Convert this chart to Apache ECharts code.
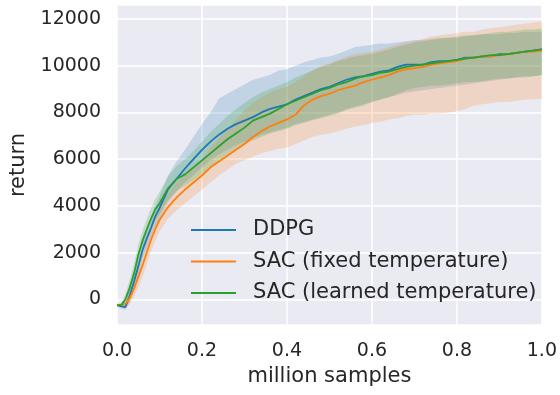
<!DOCTYPE html>
<html>
<head>
<meta charset="utf-8">
<script src="https://cdn.jsdelivr.net/npm/echarts@6/dist/echarts.min.js"></script>
<style>
  html, body { margin: 0; padding: 0; background: #ffffff; }
  #chart { width: 560px; height: 395px; }
</style>
</head>
<body>
<div id="chart"></div>
<script>
// x positions (million samples)
var samples = [0, 0.01, 0.02, 0.03, 0.04, 0.05, 0.06, 0.07, 0.08, 0.09, 0.10,
  0.12, 0.14, 0.16, 0.18, 0.20, 0.22, 0.24, 0.26, 0.28, 0.30,
  0.32, 0.34, 0.36, 0.38, 0.40, 0.42, 0.44, 0.46, 0.48, 0.50,
  0.52, 0.54, 0.56, 0.58, 0.60, 0.62, 0.64, 0.66, 0.68, 0.70,
  0.72, 0.74, 0.76, 0.78, 0.80, 0.82, 0.84, 0.86, 0.88, 0.90,
  0.92, 0.94, 0.96, 0.98, 1.00]

var ddpgMean = [-250, -300, -330, 150, 750, 1400, 2100, 2600, 3050, 3550, 3900,
  4700, 5150, 5600, 6000, 6400, 6750, 7050, 7300, 7500, 7650,
  7800, 8000, 8150, 8250, 8350, 8550, 8700, 8850, 9000, 9100,
  9250, 9400, 9500, 9550, 9650, 9750, 9800, 9950, 10050, 10050,
  10050, 10150, 10200, 10200, 10250, 10350, 10350, 10400, 10400, 10500,
  10500, 10550, 10600, 10650, 10700]
var ddpgLow = [-300, -400, -450, -150, 400, 1000, 1700, 2200, 2650, 3100, 3450,
  4150, 4600, 5000, 5300, 5650, 5950, 6200, 6400, 6600, 6750,
  6900, 7050, 7150, 7250, 7350, 7500, 7600, 7700, 7800, 7900,
  8000, 8150, 8250, 8350, 8450, 8550, 8650, 8750, 8850, 8900,
  8950, 9000, 9050, 9100, 9150, 9200, 9250, 9300, 9350, 9400,
  9450, 9500, 9500, 9550, 9600]
var ddpgHigh = [-200, -200, -150, 500, 1150, 1850, 2500, 3050, 3500, 4000, 4400,
  5300, 5900, 6400, 6950, 7500, 8000, 8600, 8800, 9000, 9200,
  9400, 9500, 9600, 9800, 9850, 10000, 10150, 10250, 10350, 10400,
  10500, 10650, 10800, 10850, 10900, 10950, 10950, 11000, 11050, 11100,
  11100, 11150, 11200, 11200, 11250, 11300, 11300, 11350, 11350, 11350,
  11400, 11400, 11450, 11450, 11450]

var sacFixedMean = [-250, -250, -200, 50, 450, 950, 1450, 2000, 2550, 3000, 3400,
  3950, 4350, 4700, 5000, 5300, 5650, 5900, 6150, 6400, 6650,
  6950, 7200, 7400, 7550, 7700, 7900, 8300, 8550, 8700, 8800,
  8950, 9050, 9150, 9300, 9400, 9500, 9600, 9750, 9850, 9900,
  9950, 10050, 10100, 10150, 10200, 10300, 10350, 10400, 10400, 10450,
  10500, 10550, 10600, 10600, 10650]
var sacFixedLow = [-300, -300, -300, -200, 100, 500, 950, 1500, 2050, 2500, 2900,
  3450, 3800, 4100, 4400, 4700, 5000, 5300, 5550, 5800, 5950,
  6100, 6250, 6350, 6450, 6500, 6650, 6800, 6950, 7050, 7100,
  7200, 7300, 7400, 7450, 7550, 7600, 7700, 7750, 7850, 7900,
  7900, 7950, 7950, 8000, 8050, 8150, 8300, 8350, 8400, 8450,
  8450, 8500, 8550, 8550, 8600]
var sacFixedHigh = [-200, -200, -100, 350, 850, 1400, 1950, 2500, 3050, 3500, 3900,
  4500, 5000, 5350, 5650, 6000, 6500, 6900, 7300, 7700, 8100,
  8400, 8650, 8850, 9000, 9100, 9300, 9550, 9800, 10000, 10100,
  10250, 10400, 10500, 10550, 10600, 10700, 10800, 10900, 11000, 11050,
  11150, 11250, 11300, 11350, 11400, 11450, 11450, 11550, 11600, 11650,
  11700, 11750, 11800, 11850, 11900]

var sacLearnedMean = [-250, -250, 0, 500, 1100, 1900, 2500, 3000, 3450, 3850, 4100,
  4750, 5150, 5350, 5650, 5950, 6250, 6550, 6850, 7100, 7350,
  7650, 7800, 7950, 8150, 8350, 8500, 8650, 8800, 8950, 9050,
  9200, 9300, 9450, 9550, 9600, 9700, 9750, 9850, 9950, 10000,
  10050, 10100, 10150, 10200, 10250, 10300, 10350, 10400, 10450, 10450,
  10500, 10550, 10600, 10650, 10700]
var sacLearnedLow = [-300, -300, -250, 150, 700, 1450, 2050, 2550, 3000, 3400, 3650,
  4250, 4650, 4850, 5100, 5350, 5650, 5950, 6200, 6450, 6650,
  6800, 6950, 7100, 7200, 7300, 7450, 7550, 7650, 7750, 7850,
  7950, 8100, 8200, 8300, 8450, 8550, 8650, 8800, 8950, 9050,
  9100, 9150, 9150, 9200, 9250, 9300, 9300, 9350, 9400, 9450,
  9450, 9500, 9550, 9550, 9600]
var sacLearnedHigh = [-200, -150, 250, 850, 1500, 2350, 2950, 3450, 3900, 4300, 4600,
  5250, 5700, 6000, 6350, 6750, 7150, 7500, 7850, 8150, 8400,
  8650, 8850, 9000, 9150, 9300, 9500, 9650, 9800, 9950, 10050,
  10200, 10300, 10400, 10450, 10500, 10600, 10700, 10800, 10900, 11000,
  11050, 11100, 11150, 11200, 11200, 11250, 11300, 11350, 11400, 11450,
  11450, 11500, 11550, 11550, 11600]

var seriesNames = ['DDPG', 'SAC (fixed temperature)', 'SAC (learned temperature)']
var seriesColors = ['#1f77b4', '#ff7f0e', '#2ca02c']
var bandColors = ['rgba(31,119,180,0.2)', 'rgba(255,127,14,0.2)', 'rgba(44,160,44,0.2)']
var yTicks = [0, 2000, 4000, 6000, 8000, 10000, 12000]

var means = [ddpgMean, sacFixedMean, sacLearnedMean]
var lows = [ddpgLow, sacFixedLow, sacLearnedLow]
var highs = [ddpgHigh, sacFixedHigh, sacLearnedHigh]

function pairs(ys) {
  return samples.map(function (x, i) { return [x, ys[i]] })
}

// band polygon: upper edge left->right, then lower edge right->left
function bandRenderer(k) {
  return function (params, api) {
    if (params.dataIndex !== 0) return
    var pts = []
    for (var i = 0; i < samples.length; i++) pts.push(api.coord([samples[i], highs[k][i]]))
    for (var j = samples.length - 1; j >= 0; j--) pts.push(api.coord([samples[j], lows[k][j]]))
    return {
      type: 'polygon',
      shape: { points: pts },
      style: { fill: bandColors[k] },
      silent: true
    }
  }
}

var series = []
for (var k = 0; k < 3; k++) {
  series.push({
    name: 'band-' + k,
    type: 'custom',
    renderItem: bandRenderer(k),
    data: samples.map(function (x, i) { return [x, lows[k][i], highs[k][i]] }),
    encode: { x: 0, y: [1, 2] },
    clip: true,
    silent: true,
    z: 1
  })
}
for (var m = 0; m < 3; m++) {
  series.push({
    name: seriesNames[m],
    type: 'line',
    data: pairs(means[m]),
    symbol: 'none',
    color: seriesColors[m],
    lineStyle: { width: 1.8, color: seriesColors[m] },
    z: 3
  })
}

var chart = echarts.init(document.getElementById('chart'))
var font = 'DejaVu Sans'
chart.setOption({
  animation: false,
  backgroundColor: '#ffffff',
  textStyle: { fontFamily: font },
  grid: {
    left: 116, right: 17, top: 5, bottom: 70,
    show: true, backgroundColor: '#eaeaf2', borderWidth: 0
  },
  legend: {
    data: seriesNames,
    orient: 'vertical',
    left: 191,
    top: 219,
    padding: 0,
    itemGap: 9.5,
    itemWidth: 45,
    itemHeight: 2,
    icon: 'rect',
    textStyle: { fontFamily: font, fontSize: 21, color: '#262626', lineHeight: 22, padding: [0, 0, 0, 12] }
  },
  xAxis: {
    type: 'value',
    min: 0, max: 1, interval: 0.2,
    name: 'million samples',
    nameLocation: 'middle',
    nameGap: 35,
    nameTextStyle: { fontFamily: font, fontSize: 21, color: '#262626' },
    axisLine: { show: false },
    axisTick: { show: false },
    axisLabel: {
      fontFamily: font, fontSize: 19, color: '#262626', margin: 17,
      formatter: function (v) { return v.toFixed(1) }
    },
    splitLine: { show: true, lineStyle: { color: '#ffffff', width: 1.5 } }
  },
  yAxis: {
    type: 'value',
    min: -1100, max: 12600,
    splitNumber: 7,
    minInterval: 2000,
    maxInterval: 2000,
    name: 'return',
    nameLocation: 'middle',
    nameGap: 88,
    nameTextStyle: { fontFamily: font, fontSize: 21, color: '#262626' },
    axisLine: { show: false },
    axisTick: { show: false },
    axisLabel: {
      fontFamily: font, fontSize: 19, color: '#262626', margin: 16,
      showMinLabel: false, showMaxLabel: false,
      formatter: function (v) { return yTicks.indexOf(v) >= 0 ? String(v) : '' }
    },
    splitLine: { show: true, lineStyle: { color: '#ffffff', width: 1.5 } }
  },
  series: series
})
</script>
</body>
</html>
